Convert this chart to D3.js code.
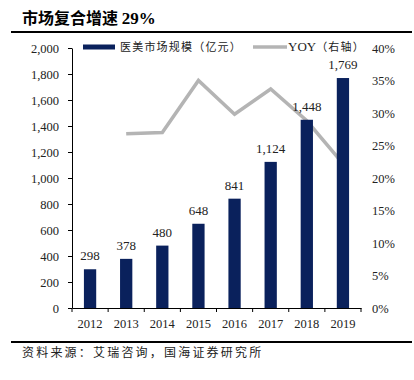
<!DOCTYPE html>
<html>
<head>
<meta charset="utf-8">
<script src="https://cdn.jsdelivr.net/npm/d3@7"></script>
<style>
  body { margin: 0; background: #fff; }
  .serif { font-family: "Liberation Serif", "Times New Roman", serif; }
  .cjk { font-family: "Noto Sans CJK SC", sans-serif; }
</style>
</head>
<body>
<div id="chart"></div>
<script>
// chart values
var years = ["2012", "2013", "2014", "2015", "2016", "2017", "2018", "2019"];
var marketSize = [298, 378, 480, 648, 841, 1124, 1448, 1769];
var yoyYears = ["2013", "2014", "2015", "2016", "2017", "2018", "2019"];
var yoy = [26.8, 27.0, 35.0, 29.8, 33.7, 28.8, 22.2];
var leftTicks = [0, 200, 400, 600, 800, 1000, 1200, 1400, 1600, 1800, 2000];
var rightTicks = [0, 5, 10, 15, 20, 25, 30, 35, 40];

var W = 414, H = 380;
var plot = { left: 72, right: 361, top: 48, bottom: 308 };

var svg = d3.select("#chart")
  .append("svg")
  .attr("width", W)
  .attr("height", H);

// title and rules
svg.append("text")
  .attr("x", 22)
  .attr("y", 24)
  .attr("font-size", 16)
  .attr("font-weight", "bold")
  .attr("class", "cjk")
  .text("市场复合增速 ")
  .append("tspan")
  .attr("class", "serif")
  .attr("font-size", 17)
  .text("29%");

svg.append("rect")
  .attr("x", 11).attr("y", 31)
  .attr("width", 401).attr("height", 2)
  .attr("fill", "#000");

svg.append("rect")
  .attr("x", 11).attr("y", 341)
  .attr("width", 401).attr("height", 2)
  .attr("fill", "#000");

svg.append("text")
  .attr("x", 22)
  .attr("y", 357)
  .attr("font-size", 12)
  .attr("letter-spacing", 2.2)
  .attr("class", "cjk")
  .attr("fill", "#222")
  .text("资料来源：艾瑞咨询，国海证券研究所");

// scales
var x = d3.scaleBand()
  .domain(years)
  .range([plot.left, plot.right])
  .paddingInner(0.66)
  .paddingOuter(0.33);

var xBand = d3.scaleBand()
  .domain(years)
  .range([plot.left, plot.right]);

var y = d3.scaleLinear()
  .domain([0, 2000])
  .range([plot.bottom, plot.top]);

var y2 = d3.scaleLinear()
  .domain([0, 40])
  .range([plot.bottom, plot.top]);

// left axis
var leftAxis = svg.append("g")
  .attr("transform", "translate(" + plot.left + ",0)")
  .call(d3.axisLeft(y)
    .tickValues(leftTicks)
    .tickSizeInner(4)
    .tickSizeOuter(0)
    .tickPadding(9)
    .tickFormat(d3.format(",")));
leftAxis.selectAll("text")
  .attr("class", "serif")
  .attr("font-size", 12.5)
  .attr("fill", "#222");
leftAxis.select(".domain").attr("stroke", "#000");

// right axis (labels only)
var rightAxis = svg.append("g")
  .attr("transform", "translate(" + plot.right + ",0)")
  .call(d3.axisRight(y2)
    .tickValues(rightTicks)
    .tickSize(0)
    .tickPadding(11)
    .tickFormat(function(d) { return d + "%"; }));
rightAxis.select(".domain").remove();
rightAxis.selectAll("text")
  .attr("class", "serif")
  .attr("font-size", 12.5)
  .attr("fill", "#222");

// YOY line (drawn under the bars)
var line = d3.line()
  .x(function(d, i) { return xBand(yoyYears[i]) + xBand.bandwidth() / 2; })
  .y(function(d) { return y2(d); });

svg.append("path")
  .datum(yoy)
  .attr("d", line)
  .attr("fill", "none")
  .attr("stroke", "#b4b4b4")
  .attr("stroke-width", 3.5)
  .attr("stroke-linejoin", "miter");

// bars
svg.selectAll(".bar")
  .data(marketSize)
  .enter()
  .append("rect")
  .attr("class", "bar")
  .attr("x", function(d, i) { return x(years[i]); })
  .attr("y", function(d) { return y(d); })
  .attr("width", x.bandwidth())
  .attr("height", function(d) { return y(0) - y(d); })
  .attr("fill", "#0a215c");

// bar labels
svg.selectAll(".barLabel")
  .data(marketSize)
  .enter()
  .append("text")
  .attr("class", "serif")
  .attr("x", function(d, i) { return x(years[i]) + x.bandwidth() / 2; })
  .attr("y", function(d) { return y(d) - 9; })
  .attr("text-anchor", "middle")
  .attr("font-size", 13)
  .attr("fill", "#222")
  .text(function(d) { return d3.format(",")(d); });

// x axis
var xAxis = svg.append("g")
  .attr("transform", "translate(0," + plot.bottom + ")")
  .call(d3.axisBottom(xBand).tickSize(0).tickPadding(11));
xAxis.select(".domain").attr("stroke", "#000");
xAxis.selectAll("text")
  .attr("class", "serif")
  .attr("font-size", 12.5)
  .attr("fill", "#222");

// x ticks between categories
var bounds = years.map(function(d) { return xBand(d); }).concat([plot.right]);
svg.selectAll(".xtick")
  .data(bounds)
  .enter()
  .append("line")
  .attr("x1", function(d) { return d; })
  .attr("x2", function(d) { return d; })
  .attr("y1", plot.bottom)
  .attr("y2", plot.bottom + 4)
  .attr("stroke", "#000");

// legend
svg.append("rect")
  .attr("x", 83).attr("y", 44.5)
  .attr("width", 32).attr("height", 5)
  .attr("fill", "#0a215c");

svg.append("text")
  .attr("x", 120)
  .attr("y", 51)
  .attr("font-size", 11)
  .attr("letter-spacing", 1.2)
  .attr("class", "cjk")
  .attr("fill", "#222")
  .text("医美市场规模（亿元）");

svg.append("line")
  .attr("x1", 253).attr("x2", 287)
  .attr("y1", 47).attr("y2", 47)
  .attr("stroke", "#b4b4b4")
  .attr("stroke-width", 3.5);

var yoyLegend = svg.append("text")
  .attr("x", 288)
  .attr("y", 51)
  .attr("font-size", 12)
  .attr("fill", "#222");
yoyLegend.append("tspan").attr("class", "serif").attr("font-size", 13).text("YOY");
yoyLegend.append("tspan").attr("class", "cjk").attr("font-size", 11)
  .attr("letter-spacing", 1.2).text("（右轴）");
</script>
</body>
</html>
